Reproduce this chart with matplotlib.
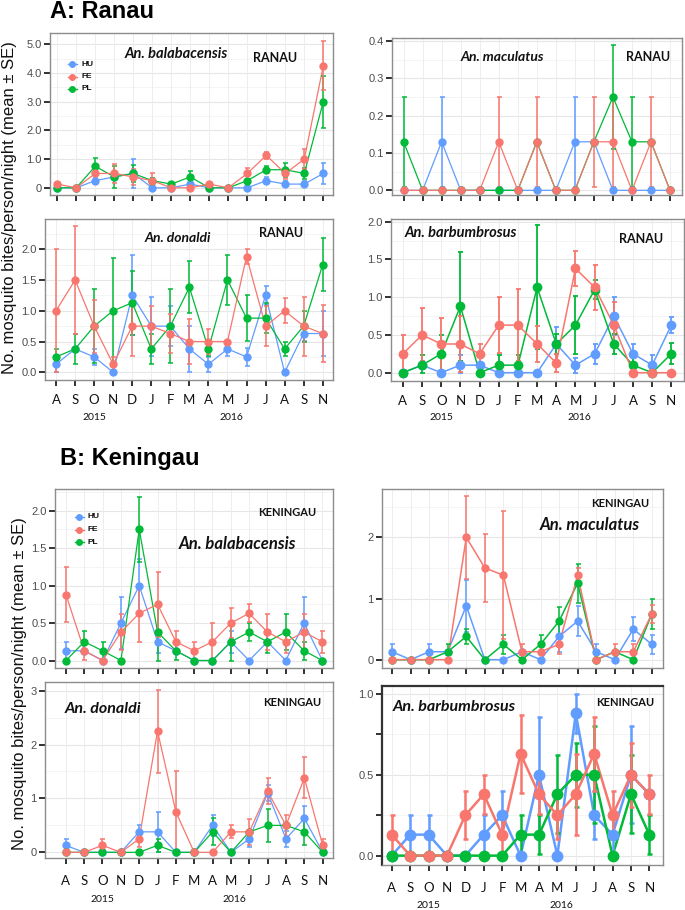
import numpy as np
import matplotlib.pyplot as plt
from matplotlib.lines import Line2D

W, H = 685, 910

months = ["A", "S", "O", "N", "D", "J", "F", "M", "A", "M", "J", "J", "A", "S", "N"]
years = ["2015", "2016"]
year_pos = [2.0, 9.2]
colors = {"HU": "#619CFF", "FE": "#F8766D", "PL": "#00BA38"}

# A: Ranau - An. balabacensis
ran_bal_hu = [0, 0, 0.25, 0.38, 0.5, 0, 0, 0.13, 0, 0, 0, 0.25, 0.13, 0.13, 0.5]
ran_bal_hu_se = [0, 0, 0.12, 0.1, 0.5, 0, 0, 0.1, 0, 0, 0, 0.13, 0.1, 0.1, 0.35]
ran_bal_fe = [0.13, 0, 0.5, 0.5, 0.38, 0.25, 0, 0, 0.13, 0, 0.5, 1.13, 0.5, 1.0, 4.25]
ran_bal_fe_se = [0.08, 0, 0.1, 0.33, 0.27, 0.25, 0, 0, 0.08, 0, 0.2, 0.12, 0.2, 0.35, 0.85]
ran_bal_pl = [0, 0, 0.75, 0.38, 0.5, 0.25, 0.13, 0.38, 0, 0, 0.25, 0.63, 0.63, 0.5, 3.0]
ran_bal_pl_se = [0, 0, 0.3, 0.37, 0.28, 0.1, 0.07, 0.22, 0, 0, 0.15, 0.12, 0.25, 0.2, 0.9]

# A: Ranau - An. maculatus
ran_mac_hu = [0, 0, 0.13, 0, 0, 0, 0, 0, 0, 0.13, 0.13, 0, 0, 0, 0]
ran_mac_hu_se = [0, 0, 0.12, 0, 0, 0, 0, 0, 0, 0.12, 0, 0, 0, 0, 0]
ran_mac_fe = [0, 0, 0, 0, 0, 0.13, 0, 0.13, 0, 0, 0.13, 0.13, 0, 0.13, 0]
ran_mac_fe_se = [0, 0, 0, 0, 0, 0.12, 0, 0.12, 0, 0, 0.12, 0.12, 0, 0.12, 0]
ran_mac_pl = [0.13, 0, 0, 0, 0, 0, 0, 0.13, 0, 0, 0.13, 0.25, 0.13, 0.13, 0]
ran_mac_pl_se = [0.12, 0, 0, 0, 0, 0, 0, 0, 0, 0, 0, 0.14, 0.12, 0, 0]

# A: Ranau - An. donaldi
ran_don_hu = [0.13, 0.38, 0.25, 0, 1.25, 0.75, 0.75, 0.38, 0.13, 0.38, 0.25, 1.25, 0, 0.63, 0.63]
ran_don_hu_se = [0.13, 0, 0.13, 0, 0.65, 0.48, 0.32, 0.37, 0.12, 0.12, 0.14, 0.15, 0, 0.12, 0.37]
ran_don_fe = [1.0, 1.5, 0.75, 0.13, 0.75, 0.75, 0.63, 0.5, 0.5, 0.5, 1.88, 0.75, 1.0, 0.75, 0.63]
ran_don_fe_se = [1.0, 0.87, 0.43, 0.12, 0.48, 0.32, 0.32, 0.36, 0.2, 0, 0.12, 0.32, 0.2, 0.48, 0.47]
ran_don_pl = [0.25, 0.38, 0.75, 1.0, 1.13, 0.38, 0.75, 1.38, 0.38, 1.5, 0.88, 0.88, 0.38, 0.75, 1.75]
ran_don_pl_se = [0.13, 0.24, 0.6, 0.85, 0.52, 0.24, 0.6, 0.42, 0.12, 0.4, 0.37, 0.24, 0.12, 0.25, 0.43]

# A: Ranau - An. barbumbrosus
ran_bar_hu = [0, 0.1, 0, 0.1, 0.1, 0, 0, 0, 0.38, 0.1, 0.25, 0.75, 0.25, 0.1, 0.63]
ran_bar_hu_se = [0, 0, 0, 0.13, 0, 0, 0, 0, 0.23, 0.1, 0.13, 0.25, 0.13, 0.13, 0.11]
ran_bar_fe = [0.25, 0.5, 0.38, 0.38, 0.25, 0.63, 0.63, 0.38, 0.13, 1.38, 1.13, 0.63, 0, 0, 0]
ran_bar_fe_se = [0.25, 0.35, 0.35, 0.37, 0.13, 0.37, 0.48, 0.24, 0.12, 0.23, 0.3, 0.3, 0, 0, 0]
ran_bar_pl = [0, 0.1, 0.25, 0.88, 0, 0.1, 0.1, 1.13, 0.38, 0.63, 1.1, 0.38, 0.1, 0, 0.25]
ran_bar_pl_se = [0, 0.13, 0.25, 0.72, 0, 0.13, 0.13, 0.82, 0.13, 0.38, 0.13, 0.13, 0.1, 0, 0.14]

# B: Keningau - An. balabacensis
ken_bal_hu = [0.13, 0.13, 0, 0.5, 1.0, 0.25, 0.13, 0, 0, 0.25, 0, 0.25, 0, 0.5, 0]
ken_bal_hu_se = [0.12, 0, 0, 0.35, 0.35, 0.15, 0, 0, 0, 0.15, 0, 0, 0, 0.35, 0]
ken_bal_fe = [0.88, 0.13, 0, 0.38, 0.63, 0.75, 0.25, 0.13, 0.25, 0.5, 0.63, 0.38, 0.25, 0.38, 0.25]
ken_bal_fe_se = [0.37, 0.12, 0, 0.24, 0.38, 0.43, 0.15, 0.12, 0.25, 0.2, 0.12, 0.24, 0.15, 0.24, 0.15]
ken_bal_pl = [0, 0.25, 0.13, 0, 1.75, 0.38, 0.13, 0, 0, 0.25, 0.38, 0.25, 0.38, 0.13, 0]
ken_bal_pl_se = [0, 0.15, 0.12, 0, 0.43, 0.38, 0.12, 0, 0, 0.25, 0.12, 0.15, 0.24, 0.12, 0]

# B: Keningau - An. maculatus
ken_mac_hu = [0.13, 0, 0.13, 0.13, 0.88, 0, 0, 0.13, 0, 0.38, 0.63, 0.13, 0, 0.5, 0.25]
ken_mac_hu_se = [0.12, 0, 0.12, 0, 0.43, 0, 0, 0, 0, 0.25, 0.24, 0.12, 0, 0.2, 0.15]
ken_mac_fe = [0, 0, 0, 0, 2.0, 1.5, 1.38, 0.13, 0.13, 0.25, 1.38, 0, 0.13, 0.13, 0.75]
ken_mac_fe_se = [0, 0, 0, 0, 0.68, 0.55, 1.05, 0.12, 0, 0.15, 0.12, 0, 0.12, 0.12, 0.15]
ken_mac_pl = [0, 0, 0, 0.13, 0.38, 0, 0.25, 0, 0.25, 0.63, 1.25, 0, 0.13, 0, 0.75]
ken_mac_pl_se = [0, 0, 0, 0.12, 0.12, 0, 0.15, 0, 0.15, 0.23, 0.32, 0, 0, 0, 0.25]

# B: Keningau - An. donaldi
ken_don_hu = [0.13, 0, 0, 0, 0.38, 0.38, 0, 0, 0.5, 0, 0.25, 1.1, 0.25, 0.63, 0]
ken_don_hu_se = [0.12, 0, 0, 0, 0.12, 0.37, 0, 0, 0.2, 0, 0.15, 0.15, 0.15, 0.23, 0]
ken_don_fe = [0, 0, 0.13, 0, 0.25, 2.25, 0.75, 0, 0, 0.38, 0.38, 1.13, 0.5, 1.38, 0.13]
ken_don_fe_se = [0, 0, 0.12, 0, 0.15, 0.77, 0.75, 0, 0, 0.12, 0.24, 0.24, 0.2, 0.38, 0.12]
ken_don_pl = [0, 0, 0, 0, 0, 0.13, 0, 0, 0.38, 0, 0.38, 0.5, 0.5, 0.38, 0]
ken_don_pl_se = [0, 0, 0, 0, 0, 0.12, 0, 0, 0.25, 0, 0, 0.3, 0, 0.25, 0]

# B: Keningau - An. barbumbrosus
ken_bar_hu = [0, 0.13, 0.13, 0, 0, 0.13, 0.25, 0, 0.5, 0, 0.88, 0.25, 0.13, 0.5, 0.38]
ken_bar_hu_se = [0, 0.12, 0.12, 0, 0, 0.12, 0.15, 0, 0.36, 0, 0.12, 0.15, 0.12, 0.3, 0]
ken_bar_fe = [0.13, 0, 0, 0, 0.25, 0.38, 0.13, 0.63, 0.38, 0.25, 0.38, 0.63, 0.25, 0.5, 0.38]
ken_bar_fe_se = [0.12, 0, 0, 0, 0.15, 0.12, 0.12, 0.24, 0.12, 0.15, 0.25, 0.23, 0.15, 0.2, 0.12]
ken_bar_pl = [0, 0, 0, 0, 0, 0, 0, 0.13, 0.13, 0.38, 0.5, 0.5, 0, 0.38, 0.13]
ken_bar_pl_se = [0, 0, 0, 0, 0, 0, 0, 0.12, 0.12, 0.24, 0.2, 0.3, 0, 0.24, 0.12]

fig = plt.figure(figsize=(W / 100, H / 100), dpi=100)
fig.patch.set_facecolor("white")


def px_rect(x0, y0, x1, y1):
    return [x0 / W, 1 - y1 / H, (x1 - x0) / W, (y1 - y0) / H]


def fig_xy(x, y):
    return x / W, 1 - y / H


def panel(box, xlim, ylim, yticks, ylabels, yminor, data, ms=5, lw=0.9, elw=1.1,
          show_months=False, month_pad=6, year_off=37, extra_ticks=None, dark_frame=False):
    ax = fig.add_axes(px_rect(*box))
    x = np.arange(len(months))
    # draw order: HU, PL, FE (FE ends on top)
    for grp in ["HU", "PL", "FE"]:
        mean, se = data[grp]
        mean = np.array(mean, dtype=float)
        se = np.array(se, dtype=float)
        lower = np.minimum(se, mean)
        ax.plot(x, mean, color=colors[grp], lw=lw, zorder=3)
        ax.errorbar(x, mean, yerr=[lower, se], fmt="o", ms=ms, color=colors[grp],
                    ecolor=colors[grp], elinewidth=elw, capsize=1.8, capthick=elw, zorder=4)
    ax.set_xlim(*xlim)
    ax.set_ylim(*ylim)
    ax.set_xticks(x)
    ticks = list(yticks)
    labels = list(ylabels)
    if extra_ticks:
        ticks += extra_ticks
        labels += [""] * len(extra_ticks)
    ax.set_yticks(ticks)
    ax.set_yticklabels(labels, fontsize=8, color="#4D4D4D", family="Liberation Sans")
    for yv in yticks:
        ax.axhline(yv, color="#E6E6E6", lw=0.8, zorder=0)
    for yv in yminor:
        ax.axhline(yv, color="#F2F2F2", lw=0.6, zorder=0)
    for xv in x:
        ax.axvline(xv, color="#EDEDED", lw=0.7, zorder=0)
    ax.tick_params(axis="both", length=4, width=1.3, color="#222222")
    ax.tick_params(axis="y", pad=2)
    if show_months:
        ax.set_xticklabels(months, fontsize=9.5, family="Lato", color="#111111")
        ax.tick_params(axis="x", pad=month_pad)
        h = box[3] - box[1]
        for yr, xp in zip(years, year_pos):
            ax.text(xp, -year_off / h, yr, transform=ax.get_xaxis_transform(), ha="center",
                    va="center", fontsize=7.5, family="Lato", color="#111111")
    else:
        ax.set_xticklabels([])
    for sp in ax.spines.values():
        sp.set_color("#8C8C8C")
        sp.set_linewidth(1.0)
    if dark_frame:
        ax.spines["top"].set_color("#333333")
        ax.spines["top"].set_linewidth(1.6)
        ax.spines["left"].set_color("#333333")
        ax.spines["left"].set_linewidth(1.6)
    return ax


def label(x, y, text, size, italic=False):
    fx, fy = fig_xy(x, y)
    fig.text(fx, fy, text, ha="center", va="center", fontsize=size, family="Lato",
             fontweight="bold", fontstyle="italic" if italic else "normal", color="#111111")


def legend(x, y0, step):
    for i, grp in enumerate(["HU", "FE", "PL"]):
        fx, fy = fig_xy(x, y0 + i * step)
        fig.add_artist(Line2D([fx - 4.5 / W, fx + 4.5 / W], [fy, fy], color=colors[grp],
                              lw=1.0, transform=fig.transFigure))
        fig.add_artist(Line2D([fx], [fy], marker="o", ms=4, color=colors[grp],
                              transform=fig.transFigure))
        tx, ty = fig_xy(x + 9, y0 + i * step)
        fig.text(tx, ty, grp, ha="left", va="center", fontsize=6, fontweight="bold",
                 family="Liberation Sans", color="#111111")


# ---- A: Ranau ----
panel((50, 33, 333, 195), (-0.38, 14.51), (-0.25, 5.39), [0, 1, 2, 3, 4, 5],
      ["0", "1.0", "2.0", "3.0", "4.0", "5.0"], [0.5, 1.5, 2.5, 3.5, 4.5],
      {"HU": (ran_bal_hu, ran_bal_hu_se), "FE": (ran_bal_fe, ran_bal_fe_se),
       "PL": (ran_bal_pl, ran_bal_pl_se)})
panel((392, 38, 682, 195), (-0.61, 14.63), (-0.0125, 0.408), [0, 0.1, 0.2, 0.3, 0.4],
      ["0.0", "0.1", "0.2", "0.3", "0.4"], [0.05, 0.15, 0.25, 0.35],
      {"HU": (ran_mac_hu, ran_mac_hu_se), "FE": (ran_mac_fe, ran_mac_fe_se),
       "PL": (ran_mac_pl, ran_mac_pl_se)})
panel((45, 219, 333, 380), (-0.58, 14.54), (-0.125, 2.49), [0, 0.5, 1, 1.5, 2],
      ["0.0", "0.5", "1.0", "1.5", "2.0"], [0.25, 0.75, 1.25, 1.75, 2.25],
      {"HU": (ran_don_hu, ran_don_hu_se), "FE": (ran_don_fe, ran_don_fe_se),
       "PL": (ran_don_pl, ran_don_pl_se)}, show_months=True, year_off=37)
panel((391, 219, 684, 381), (-0.62, 14.66), (-0.11, 2.035), [0, 0.5, 1, 1.5, 2],
      ["0.0", "0.5", "1.0", "1.5", "2.0"], [0.25, 0.75, 1.25, 1.75],
      {"HU": (ran_bar_hu, ran_bar_hu_se), "FE": (ran_bar_fe, ran_bar_fe_se),
       "PL": (ran_bar_pl, ran_bar_pl_se)}, ms=6, lw=1.1, elw=1.3, show_months=True,
      year_off=36)

# ---- B: Keningau ----
panel((55, 489, 333, 668), (-0.6, 14.58), (-0.1, 2.29), [0, 0.5, 1, 1.5, 2],
      ["0.0", "0.5", "1.0", "1.5", "2.0"], [0.25, 0.75, 1.25, 1.75, 2.25],
      {"HU": (ken_bal_hu, ken_bal_hu_se), "FE": (ken_bal_fe, ken_bal_fe_se),
       "PL": (ken_bal_pl, ken_bal_pl_se)})
panel((382, 489, 663, 668), (-0.54, 14.6), (-0.136, 2.79), [0, 1, 2],
      ["0", "1", "2"], [0.5, 1.5, 2.5],
      {"HU": (ken_mac_hu, ken_mac_hu_se), "FE": (ken_mac_fe, ken_mac_fe_se),
       "PL": (ken_mac_pl, ken_mac_pl_se)}, lw=1.1)
panel((45, 682, 333, 858), (-1.13, 14.56), (-0.105, 3.16), [0, 1, 2, 3],
      ["0", "1", "2", "3"], [0.5, 1.5, 2.5],
      {"HU": (ken_don_hu, ken_don_hu_se), "FE": (ken_don_fe, ken_don_fe_se),
       "PL": (ken_don_pl, ken_don_pl_se)}, show_months=True, month_pad=8, year_off=42)
panel((382, 686, 663, 865), (-0.53, 14.74), (-0.058, 1.05), [0, 0.5, 1],
      ["0.0", "0.5", "1.0"], [0.25, 0.75],
      {"HU": (ken_bar_hu, ken_bar_hu_se), "FE": (ken_bar_fe, ken_bar_fe_se),
       "PL": (ken_bar_pl, ken_bar_pl_se)}, ms=7.5, lw=1.8, elw=1.8,
      show_months=True, month_pad=8, year_off=40, extra_ticks=[0.25, 0.75], dark_frame=True)

# titles
fx, fy = fig_xy(50, 12)
fig.text(fx, fy, "A: Ranau", ha="left", va="center", fontsize=17, fontweight="bold",
         family="Liberation Sans")
fx, fy = fig_xy(60, 459)
fig.text(fx, fy, "B: Keningau", ha="left", va="center", fontsize=17, fontweight="bold",
         family="Liberation Sans")

# y axis labels
ylab = "No. mosquito bites/person/night (mean \u00b1 SE)"
fx, fy = fig_xy(10, 208)
fig.text(fx, fy, ylab, rotation=90, ha="center", va="center", fontsize=12,
         family="Liberation Sans", color="#111111")
fx, fy = fig_xy(20, 684)
fig.text(fx, fy, ylab, rotation=90, ha="center", va="center", fontsize=12,
         family="Liberation Sans", color="#111111")

# panel annotations
label(176, 54, "An. balabacensis", 10.5, italic=True)
label(275, 58, "RANAU", 9)
label(502, 57, "An. maculatus", 10, italic=True)
label(648, 57, "RANAU", 9)
label(178, 238, "An. donaldi", 10, italic=True)
label(281, 233, "RANAU", 9)
label(461, 233, "An. barbumbrosus", 10.5, italic=True)
label(641, 239, "RANAU", 9)

label(287, 512, "KENINGAU", 8)
label(237, 544, "An. balabacensis", 12, italic=True)
label(620, 503, "KENINGAU", 8)
label(590, 525, "An. maculatus", 12, italic=True)
label(103, 709, "An. donaldi", 11.5, italic=True)
label(292, 703, "KENINGAU", 8)
label(454, 707, "An. barbumbrosus", 11.5, italic=True)
label(625, 702, "KENINGAU", 8)

legend(72, 64, 12.5)
legend(79, 517, 12.5)

fig.savefig("out.png", dpi=100, facecolor="white")
